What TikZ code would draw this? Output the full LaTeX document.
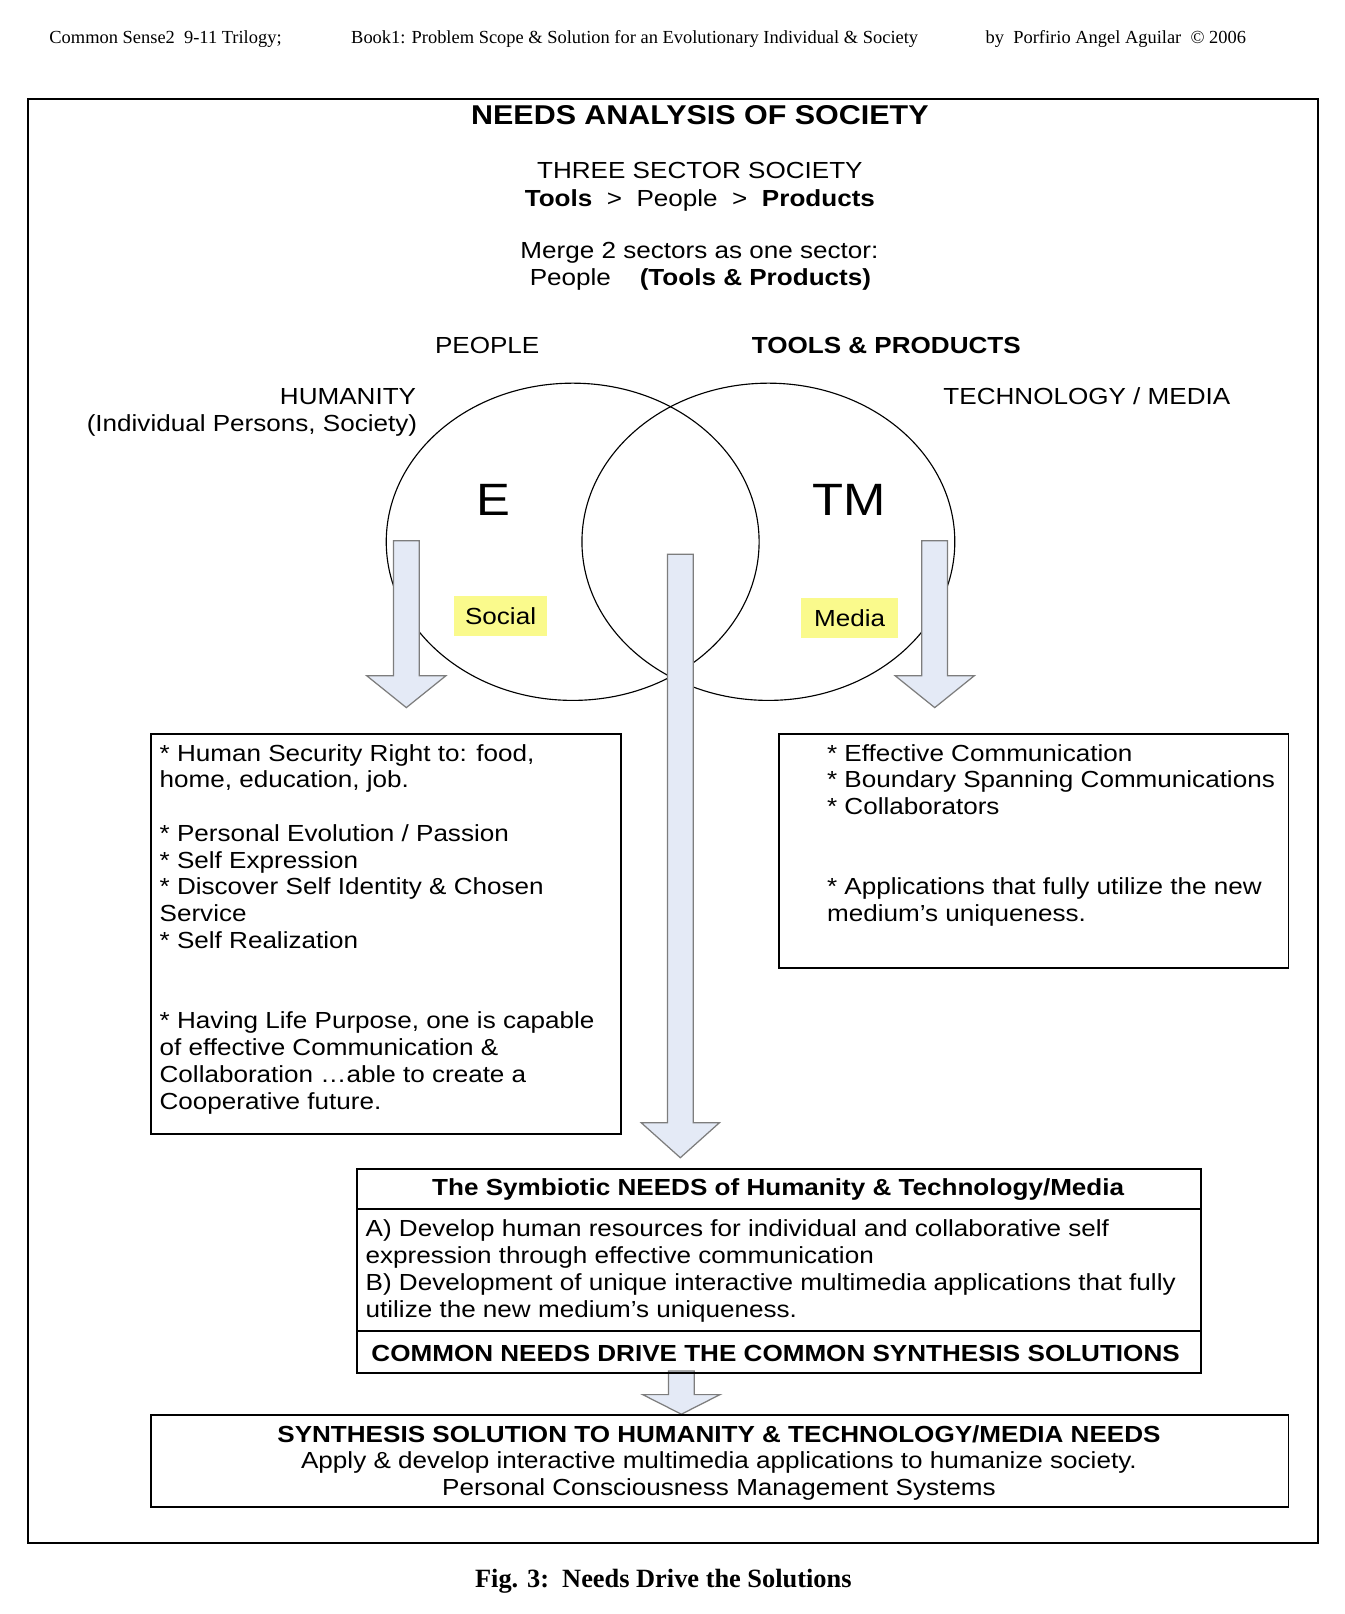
\documentclass[tikz,border=0pt]{standalone}
\usepackage{fontspec}
\setmainfont{Liberation Sans}[FakeStretch=1.12]
\newfontfamily\tnr{Liberation Serif}
\usetikzlibrary{calc,shapes.geometric}
\definecolor{arrfill}{RGB}{228,234,246}
\definecolor{arrline}{RGB}{125,125,125}
\definecolor{hl}{RGB}{250,250,140}
\newcommand\blockarr[5]{%
  \filldraw[blk] ($(#1)+(-#3,0)$) -- ($(#1)+(#3,0)$) -- ($(#2)+(#3,-#5)$) -- ($(#2)+(#4,-#5)$) -- (#2)
     -- ($(#2)+(-#4,-#5)$) -- ($(#2)+(-#3,-#5)$) -- cycle;}
\begin{document}
\begin{tikzpicture}[x=1pt,y=-1pt,
  txt/.style={inner sep=0pt, outer sep=0pt, font=\fontsize{22.6}{26}\selectfont},
  txtb/.style={inner sep=0pt, outer sep=0pt, font=\bfseries\fontsize{22.6}{26}\selectfont},
  ttl/.style={inner sep=0pt, outer sep=0pt, font=\bfseries\fontsize{26.4}{30}\selectfont},
  bigl/.style={inner sep=0pt, outer sep=0pt, font=\fontsize{44}{48}\selectfont},
  hdr/.style={inner sep=0pt, outer sep=0pt, font=\tnr\fontsize{17.9}{20}\selectfont},
  figcap/.style={inner sep=0pt, outer sep=0pt, font=\tnr\bfseries\fontsize{25.6}{28}\selectfont},
  box/.style={draw=black, line width=1.8pt, inner sep=0pt, anchor=north west},
  venn/.style={draw=black, line width=1.1pt, ellipse, inner sep=0pt, minimum width=362pt, minimum height=308pt},
  blk/.style={fill=arrfill, draw=arrline, line width=1.2pt, line join=miter},
  hlbox/.style={fill=hl, inner sep=0pt, minimum height=38pt, font=\fontsize{22.6}{26}\selectfont}]
\fill[white] (0,0) rectangle (1305,1567);
\useasboundingbox (0,0) rectangle (1305,1567);

% header
\node[hdr, anchor=base west] (h1) at (48,42) {Common Sense2\ \ 9-11 Trilogy;};
\node[hdr, anchor=base west] (h2) at (341,42) {Book1: Problem Scope \& Solution for an Evolutionary Individual \& Society};
\node[hdr, anchor=base west] (h3) at (957,42) {by\ \ Porfirio Angel Aguilar\ \ © 2006};

% frame
\node[box, minimum width=1253pt, minimum height=1402pt] (frame) at (26,95) {};

% top texts
\node[ttl, anchor=base] (title) at (679.5,120.5) {NEEDS ANALYSIS OF SOCIETY};
\node[txt, anchor=base] (three) at (679.5,173) {THREE SECTOR SOCIETY};
\node[txt, anchor=base] (tpp) at (679.5,200) {\textbf{Tools}\ \ >\ \ People\ \ >\ \ \textbf{Products}};
\node[txt, anchor=base] (merge) at (679,251) {Merge 2 sectors as one sector:};
\node[txt, anchor=base] (ptp) at (680,277) {People\hspace{28pt}\textbf{(Tools \& Products)}};
\node[txt, anchor=base] (people) at (473,343) {PEOPLE};
\node[txtb, anchor=base] (tools) at (860.5,343) {TOOLS \& PRODUCTS};
\node[txt, anchor=base east] (hum) at (404,393) {HUMANITY};
\node[txt, anchor=base east] (ind) at (405,419) {(Individual Persons, Society)};
\node[txt, anchor=base west] (tech) at (916,393) {TECHNOLOGY / MEDIA};

% venn
\node[venn] (cL) at (556,526) {};
\node[venn] (cR) at (746,526) {};
\node[bigl, anchor=base] (E) at (479,500) {E};
\node[bigl, anchor=base] (TM) at (824,500) {TM};
\node[hlbox, minimum width=90pt] (social) at (486,598) {Social};
\node[hlbox, minimum width=94pt] (media) at (825,600) {Media};

% block arrows
\coordinate (laT) at (394.5,525);  \coordinate (laB) at (394.5,687);
\coordinate (raT) at (907.5,525);  \coordinate (raB) at (907.5,687);
\coordinate (maT) at (660.5,538);  \coordinate (maB) at (660.5,1124);
\coordinate (saT) at (661.5,1331); \coordinate (saB) at (661.5,1373);
\blockarr{laT}{laB}{12.5}{38.5}{31}
\blockarr{raT}{raB}{12.5}{38.5}{31}
\blockarr{maT}{maB}{12.5}{38}{34}
\blockarr{saT}{saB}{12.5}{37.5}{19}

% left box
\node[box, minimum width=456pt, minimum height=388pt] (lbox) at (146,712) {};
\node[txt, anchor=north west, align=left] (ltxt) at (155,722.5) {* Human Security Right to: food,\\home, education, job.\\[26pt]* Personal Evolution / Passion\\* Self Expression\\* Discover Self Identity \& Chosen\\Service\\* Self Realization\\[52pt]* Having Life Purpose, one is capable\\of effective Communication \&\\Collaboration …able to create a\\Cooperative future.};

% right box
\node[box, minimum width=495pt, minimum height=227pt] (rbox) at (755,712) {};
\node[txt, anchor=north west, align=left] (rtxt) at (803,722.5) {* Effective Communication\\* Boundary Spanning Communications\\* Collaborators\\[52pt]* Applications that fully utilize the new\\medium’s uniqueness.};

% symbiotic box
\node[box, minimum width=819pt, minimum height=198pt] (sbox) at (346,1134) {};
\coordinate (d1) at (0,1174);
\coordinate (d2) at (0,1292);
\draw[line width=1.8pt] (sbox.west |- d1) -- (sbox.east |- d1);
\draw[line width=1.8pt] (sbox.west |- d2) -- (sbox.east |- d2);
\node[txtb, anchor=base] (stitle) at (755.5,1161) {The Symbiotic NEEDS of Humanity \& Technology/Media};
\node[txt, anchor=north west, align=left] (stxt) at (355,1184.5) {A) Develop human resources for individual and collaborative self\\expression through effective communication\\B) Development of unique interactive multimedia applications that fully\\utilize the new medium’s uniqueness.};
\node[txtb, anchor=base] (common) at (753,1322) {COMMON NEEDS DRIVE THE COMMON SYNTHESIS SOLUTIONS};

% bottom box
\node[box, minimum width=1104pt, minimum height=89pt] (bbox) at (146,1373) {};
\node[txtb, anchor=base] (syn) at (698,1400) {SYNTHESIS SOLUTION TO HUMANITY \& TECHNOLOGY/MEDIA NEEDS};
\node[txt, anchor=base] (apply) at (698,1426) {Apply \& develop interactive multimedia applications to humanize society.};
\node[txt, anchor=base] (pcms) at (698,1452) {Personal Consciousness Management Systems};

% caption
\node[figcap, anchor=base] (caption) at (644,1541) {Fig. 3:\ \ Needs Drive the Solutions};
\end{tikzpicture}
\end{document}
